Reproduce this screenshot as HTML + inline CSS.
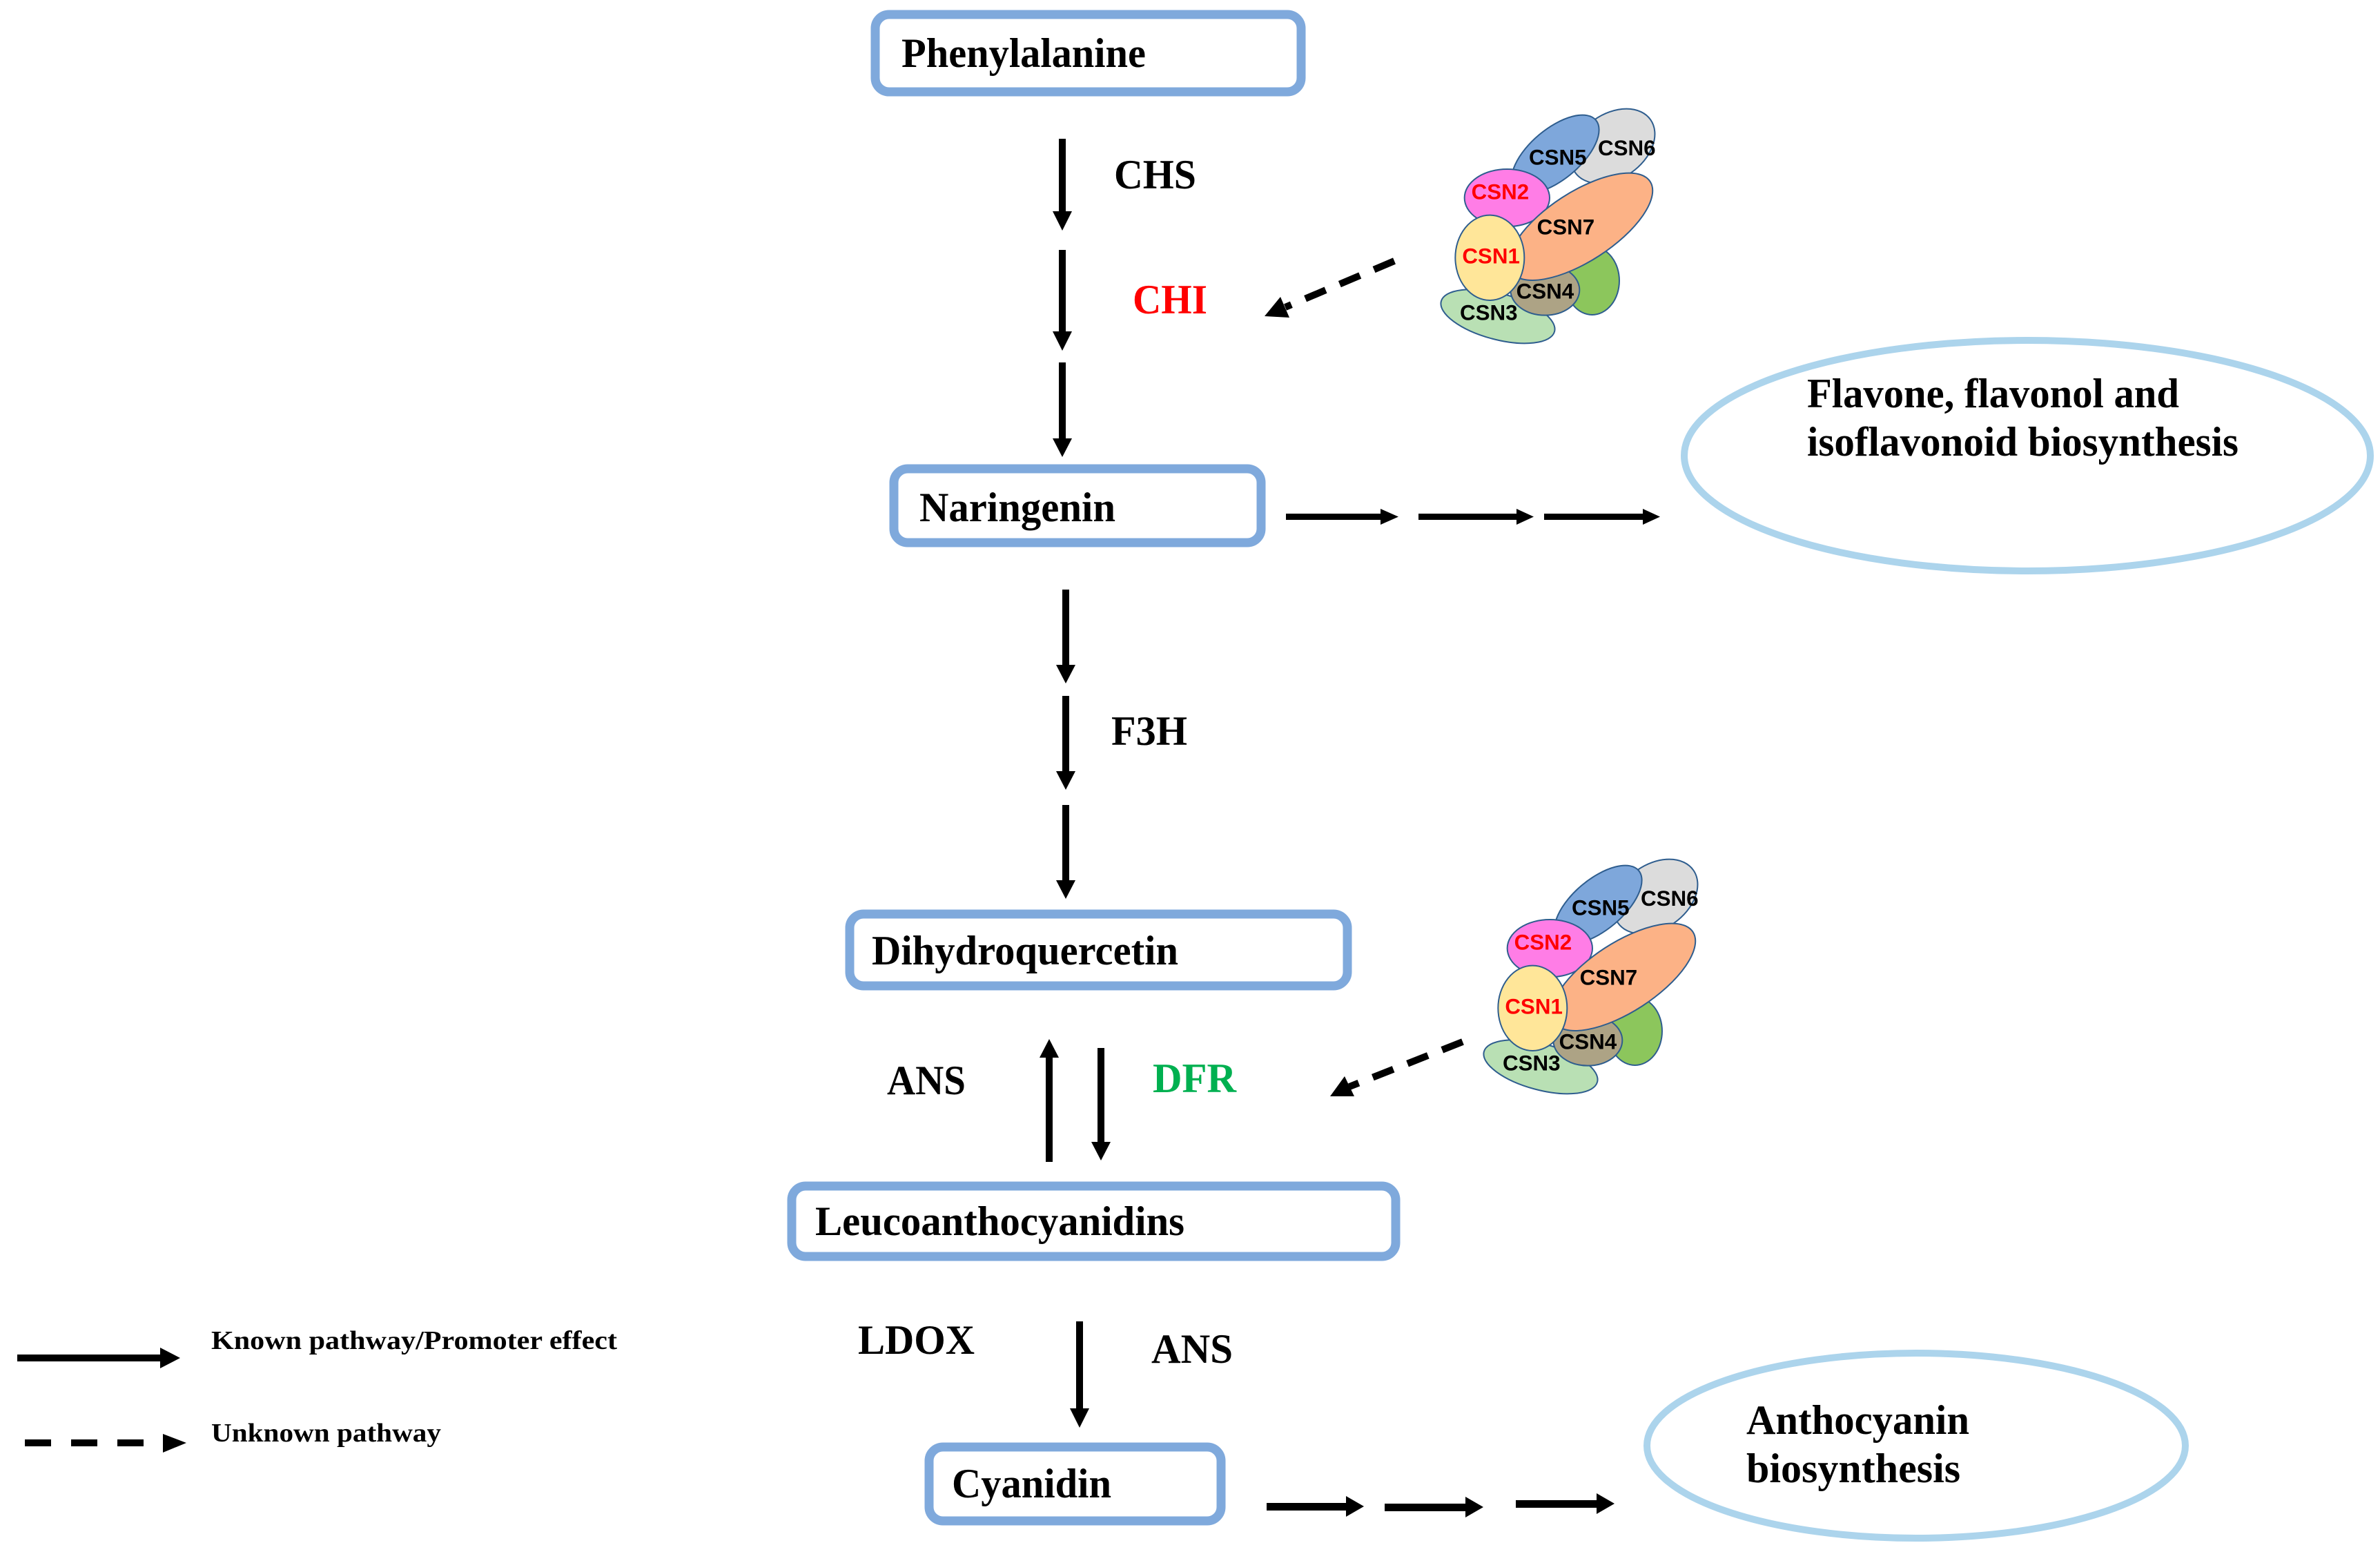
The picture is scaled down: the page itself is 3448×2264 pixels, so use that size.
<!DOCTYPE html>
<html><head><meta charset="utf-8"><style>
html,body{margin:0;padding:0;background:#fff;}
svg{display:block;}
.t{font-family:"Liberation Serif",serif;font-weight:bold;font-size:60px;fill:#000;}
.c{font-family:"Liberation Sans",sans-serif;font-weight:bold;font-size:94px;fill:#000;}
.box{fill:#fff;stroke:#7fa9dc;stroke-width:13;}
.ell{fill:none;stroke:#acd4ec;stroke-width:10;}
.e{stroke:#2e5d8e;stroke-width:6;}
</style></head><body>
<svg width="3448" height="2264" viewBox="0 0 3448 2264" xmlns="http://www.w3.org/2000/svg">
<defs>
<g id="csn">
<ellipse class="e" cx="860" cy="215" rx="200" ry="140" transform="rotate(-35 860 215)" fill="#dcdcdc"/>
<ellipse class="e" cx="610" cy="250" rx="230" ry="110" transform="rotate(-40 610 250)" fill="#7ea7db"/>
<ellipse class="e" cx="400" cy="440" rx="185" ry="125" fill="#ff7de6"/>
<ellipse class="e" cx="770" cy="800" rx="118" ry="148" fill="#8cc65c"/>
<ellipse class="e" cx="360" cy="955" rx="255" ry="100" transform="rotate(15 360 955)" fill="#b9e0b4"/>
<ellipse class="e" cx="565" cy="840" rx="150" ry="110" fill="#ada385"/>
<ellipse class="e" cx="720" cy="565" rx="360" ry="150" transform="rotate(-33 720 565)" fill="#fcb286"/>
<ellipse class="e" cx="325" cy="700" rx="150" ry="185" fill="#ffe699"/>
<text class="c" x="495" y="295">CSN5</text>
<text class="c" x="795" y="255">CSN6</text>
<text class="c" x="245" y="445" style="fill:#ff0000">CSN2</text>
<text class="c" x="530" y="598">CSN7</text>
<text class="c" x="205" y="725" style="fill:#ff0000">CSN1</text>
<text class="c" x="440" y="878">CSN4</text>
<text class="c" x="195" y="970">CSN3</text>
</g>
</defs>

<rect class="box" x="1268" y="21" width="617" height="112" rx="20"/>
<rect class="box" x="1295" y="679" width="532" height="107" rx="20"/>
<rect class="box" x="1231" y="1324" width="721" height="104" rx="20"/>
<rect class="box" x="1147" y="1718" width="875" height="102" rx="20"/>
<rect class="box" x="1346" y="2096" width="423" height="107" rx="20"/>

<text class="t" x="1306" y="97" textLength="354" lengthAdjust="spacingAndGlyphs">Phenylalanine</text>
<text class="t" x="1332" y="755" textLength="284" lengthAdjust="spacingAndGlyphs">Naringenin</text>
<text class="t" x="1263" y="1397" textLength="444" lengthAdjust="spacingAndGlyphs">Dihydroquercetin</text>
<text class="t" x="1181" y="1789" textLength="535" lengthAdjust="spacingAndGlyphs">Leucoanthocyanidins</text>
<text class="t" x="1379" y="2169" textLength="231" lengthAdjust="spacingAndGlyphs">Cyanidin</text>

<text class="t" x="1614" y="273" textLength="119" lengthAdjust="spacingAndGlyphs">CHS</text>
<text class="t" x="1641" y="454" textLength="108" lengthAdjust="spacingAndGlyphs" style="fill:#ff0000">CHI</text>
<text class="t" x="1610" y="1079" textLength="110" lengthAdjust="spacingAndGlyphs">F3H</text>
<text class="t" x="1285" y="1585" textLength="114" lengthAdjust="spacingAndGlyphs">ANS</text>
<text class="t" x="1670" y="1582" textLength="121" lengthAdjust="spacingAndGlyphs" style="fill:#00b050">DFR</text>
<text class="t" x="1243" y="1961" textLength="169" lengthAdjust="spacingAndGlyphs">LDOX</text>
<text class="t" x="1668" y="1974" textLength="118" lengthAdjust="spacingAndGlyphs">ANS</text>

<ellipse class="ell" cx="2937" cy="660" rx="497" ry="167"/>
<text class="t" x="2618" y="590" textLength="539" lengthAdjust="spacingAndGlyphs">Flavone, flavonol and</text>
<text class="t" x="2618" y="660" textLength="625" lengthAdjust="spacingAndGlyphs">isoflavonoid biosynthesis</text>
<ellipse class="ell" cx="2776" cy="2094" rx="390" ry="134"/>
<text class="t" x="2530" y="2077" textLength="323" lengthAdjust="spacingAndGlyphs">Anthocyanin</text>
<text class="t" x="2530" y="2147">biosynthesis</text>

<g fill="#000">
<rect x="1534" y="201" width="10" height="110"/><polygon points="1525,306 1553,306 1539,334"/>
<rect x="1534" y="362" width="10" height="122"/><polygon points="1525,480 1553,480 1539,508"/>
<rect x="1534" y="525" width="10" height="115"/><polygon points="1525,635 1553,635 1539,662"/>

<rect x="1539" y="854" width="10" height="114"/><polygon points="1530,963 1558,963 1544,990"/>
<rect x="1539" y="1008" width="10" height="114"/><polygon points="1530,1117 1558,1117 1544,1144"/>
<rect x="1539" y="1166" width="10" height="114"/><polygon points="1530,1275 1558,1275 1544,1302"/>

<rect x="1515" y="1528" width="10" height="155"/><polygon points="1506,1532 1534,1532 1520,1505"/>
<rect x="1590" y="1518" width="10" height="140"/><polygon points="1581,1654 1609,1654 1595,1681"/>
<rect x="1559" y="1914" width="10" height="130"/><polygon points="1550,2040 1578,2040 1564,2068"/>

<rect x="1863" y="744" width="140" height="9"/><polygon points="2000,737 2026,748.5 2000,760"/>
<rect x="2055" y="744" width="145" height="9"/><polygon points="2197,737 2222,748.5 2197,760"/>
<rect x="2237" y="744" width="145" height="9"/><polygon points="2380,737 2405,748.5 2380,760"/>

<rect x="1835" y="2177" width="118" height="11"/><polygon points="1950,2167 1976,2182 1950,2197"/>
<rect x="2006" y="2178" width="120" height="11"/><polygon points="2123,2168 2149,2183 2123,2198"/>
<rect x="2196" y="2173" width="120" height="11"/><polygon points="2313,2163 2339,2178 2313,2193"/>

<rect x="25" y="1962" width="210" height="10"/><polygon points="232,1952 261,1967 232,1982"/>
<rect x="36" y="2085" width="38" height="10"/><rect x="103" y="2085" width="38" height="10"/><rect x="170" y="2085" width="38" height="10"/>
<polygon points="236,2077 270,2090 236,2104"/>
</g>
<text class="t" style="font-size:38px" x="306" y="1954" textLength="588" lengthAdjust="spacingAndGlyphs">Known pathway/Promoter effect</text>
<text class="t" style="font-size:38px" x="306" y="2088" textLength="333" lengthAdjust="spacingAndGlyphs">Unknown pathway</text>

<line x1="2020" y1="378" x2="1862" y2="445" stroke="#000" stroke-width="10" stroke-dasharray="32 22"/>
<polygon points="1832,458 1855,430 1868,460" fill="#000"/>
<line x1="2119" y1="1509" x2="1955" y2="1574" stroke="#000" stroke-width="10" stroke-dasharray="32 22"/>
<polygon points="1927,1588 1948,1559 1962,1588" fill="#000"/>

<use href="#csn" transform="translate(2050,140) scale(0.3333)"/>
<use href="#csn" transform="translate(2112,1227) scale(0.3333)"/>
</svg>
</body></html>
